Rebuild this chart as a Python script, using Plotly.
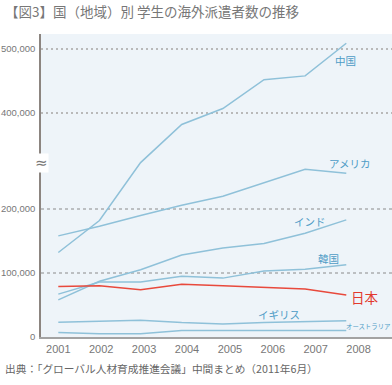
import plotly.graph_objects as go

years = [2001, 2002, 2003, 2004, 2005, 2006, 2007, 2008]
china = [132000, 182000, 275000, 382000, 407000, 452000, 458000, 509000]
usa = [158000, 173000, 190000, 206000, 220000, 241000, 262000, 256000]
india = [58000, 87000, 105000, 128000, 139000, 146000, 162000, 183000]
korea = [67000, 86000, 86000, 95000, 92000, 103000, 106000, 113000]
japan = [79000, 80000, 74000, 82500, 80000, 77000, 75000, 65500]
uk = [23000, 24000, 26000, 22500, 20500, 22500, 23500, 25500]
australia = [7000, 5000, 5000, 10000, 10000, 10000, 10000, 10000]

series_names = ["中国", "アメリカ", "インド", "韓国", "日本", "イギリス", "オーストラリア"]
y_tick_values = [0, 100000, 200000, 400000, 500000]
y_tick_labels = ["0", "100,000", "200,000", "400,000", "500,000"]
x_tick_labels = ["2001", "2002", "2003", "2004", "2005", "2006", "2007", "2008"]

# broken axis: values between BREAK_LO and BREAK_HI are compressed by half
BREAK_LO, BREAK_HI = 270000, 370000


def disp(v):
    if v <= BREAK_LO:
        return v
    if v >= BREAK_HI:
        return v - (BREAK_HI - BREAK_LO) / 2
    return BREAK_LO + (v - BREAK_LO) / 2


BLUE = "#8fc1d9"
LABEL_BLUE = "#4e9cc6"
RED = "#e8493c"
JP_FONT = "Noto Sans CJK JP, Liberation Sans, sans-serif"
NUM_FONT = "Liberation Sans, Arial, sans-serif"

W, H = 392, 385
plot_left, plot_right = 41, 392
plot_top, plot_bottom = 34, 337

fig = go.Figure()
data = [china, usa, india, korea, japan, uk, australia]
for name, vals in zip(series_names, data):
    fig.add_trace(go.Scatter(
        x=years, y=[disp(v) for v in vals], mode="lines", name=name,
        line=dict(color=RED if name == "日本" else BLUE, width=1.5),
        hoverinfo="skip", showlegend=False))

# gridlines
for tv in y_tick_values[1:]:
    upper = tv > BREAK_HI
    fig.add_shape(type="line", xref="paper", x0=0, x1=1, yref="y",
                  y0=disp(tv), y1=disp(tv), layer="below",
                  line=dict(color="#b9b9b9" if upper else "#8a8a8a",
                            width=2 if upper else 1,
                            dash="2px,3px" if upper else "3px,3px"))

px_per_year = 41.14
x0_px = 58.3
xr = [years[0] - (x0_px - plot_left) / px_per_year,
      years[0] + (plot_right - x0_px) / px_per_year]
label_stretch = 42.9 / px_per_year
tickpos = [years[0] + (y - years[0]) * label_stretch for y in years]

k_per_px = 1 / 0.00064
yr = [0, (plot_bottom - plot_top) * k_per_px]


def px_to_x(px):
    return years[0] + (px - x0_px) / px_per_year


def py_to_y(py):
    return (plot_bottom - py) * k_per_px


def px_to_paper(px):
    return (px - plot_left) / (plot_right - plot_left)


def py_to_paper(py):
    return (plot_bottom - py) / (plot_bottom - plot_top)


label_specs = [
    ("中国", 345, 60.5, LABEL_BLUE, 10.5, "center"),
    ("アメリカ", 349, 163.5, LABEL_BLUE, 10.5, "center"),
    ("インド", 310, 221.5, LABEL_BLUE, 10.5, "center"),
    ("韓国", 328.5, 258.5, LABEL_BLUE, 10.5, "center"),
    ("日本", 364.5, 296.5, "#e23a2e", 13.5, "center"),
    ("イギリス", 278.5, 314, LABEL_BLUE, 10.5, "center"),
    ("オーストラリア", 344, 326.5, LABEL_BLUE, 6.4, "left"),
]
for txt, px, py, col, sz, anc in label_specs:
    fig.add_annotation(x=px_to_x(px), y=py_to_y(py), xref="x", yref="y",
                       text=txt, showarrow=False, xanchor=anc, yanchor="middle",
                       font=dict(family=JP_FONT, size=sz, color=col))

# axis break symbol
fig.add_annotation(x=0, xref="paper", y=py_to_y(163), yref="y",
                   text="≈", showarrow=False, xanchor="center", yanchor="middle",
                   font=dict(family="DejaVu Sans", size=15, color="#777777"),
                   bgcolor="#ffffff", borderpad=0)

fig.add_annotation(x=px_to_paper(3), xref="paper", y=py_to_paper(11), yref="paper",
                   text="【図3】国（地域）別 学生の海外派遣者数の推移",
                   showarrow=False, xanchor="left", yanchor="middle",
                   font=dict(family=JP_FONT, size=13.5, color="#777777"))
fig.add_annotation(x=px_to_paper(3), xref="paper", y=py_to_paper(368), yref="paper",
                   text="出典：「グローバル人材育成推進会議」中間まとめ（2011年6月）",
                   showarrow=False, xanchor="left", yanchor="middle",
                   font=dict(family=JP_FONT, size=10.7, color="#666666"))

fig.update_layout(
    width=W, height=H,
    margin=dict(l=plot_left, r=W - plot_right, t=plot_top, b=H - plot_bottom),
    paper_bgcolor="white", plot_bgcolor="#eef4f9",
    xaxis=dict(range=xr, tickvals=tickpos, ticktext=x_tick_labels,
               showgrid=False, zeroline=False, showline=True,
               linecolor="#a3a3a3", linewidth=2,
               ticks="outside", ticklen=1, tickcolor="rgba(0,0,0,0)",
               tickfont=dict(family=NUM_FONT, size=11, color="#777777")),
    yaxis=dict(range=yr, tickvals=[disp(v) for v in y_tick_values],
               ticktext=y_tick_labels, showgrid=False, zeroline=False,
               showline=True, linecolor="#8c8580", linewidth=1.5,
               ticks="outside", ticklen=2, tickcolor="rgba(0,0,0,0)",
               tickfont=dict(family=NUM_FONT, size=9.5, color="#777777")),
)

fig.write_html("out.html", config={"displayModeBar": False},
               post_script="document.body.style.margin='0';document.body.style.overflow='hidden';")
